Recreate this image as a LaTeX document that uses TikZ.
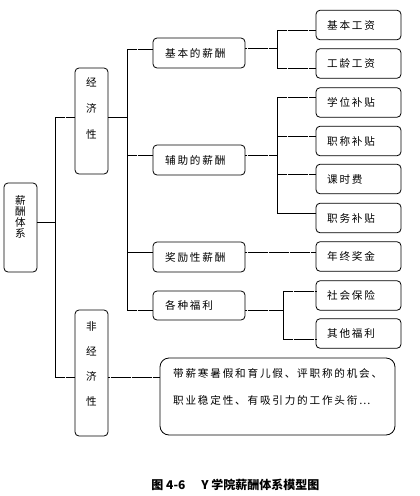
\documentclass[tikz,border=0pt]{standalone}
\usepackage{fontspec}
\newfontfamily\cjk[LetterSpace=17]{Noto Sans CJK SC}
\newfontfamily\cjkplain{Noto Sans CJK SC}
\begin{document}
\begin{tikzpicture}[x=1pt,y=-1pt,
  box/.style={draw, line width=0.8pt, rounded corners=4pt, inner sep=0pt},
  lbl/.style={font=\cjk\fontsize{10.6}{12}\selectfont, inner sep=0pt, anchor=west},
  vlbl/.style={font=\cjkplain\fontsize{10.6}{#1}\selectfont, inner sep=0pt, align=center},
  solidl/.style={line width=0.6pt},
  dotl/.style={line width=1pt, dash pattern=on 0.7pt off 0.35pt}]
\useasboundingbox (0,0) rectangle (420,496);
% level 0 and 1
\node[box, minimum width=33pt, minimum height=89pt] (root) at (20.5,227.5) {};
\node[vlbl=11pt] (roott) at (20.5,216.5) {薪\\酬\\体\\系};
\node[box, minimum width=33pt, minimum height=106pt] (econ) at (91.5,121) {};
\node[vlbl=26pt] (econt) at (91.5,108) {经\\济\\性};
\node[box, minimum width=33pt, minimum height=126pt] (nonecon) at (91.5,373) {};
\node[vlbl=25pt] (nonecont) at (91.5,363.5) {非\\经\\济\\性};
% level 2
\node[box, minimum width=92pt, minimum height=30pt] (basic) at (199,53) {};
\node[lbl] (basict) at (165,53) {基本的薪酬};
\node[box, minimum width=92pt, minimum height=30pt] (aux) at (199,160) {};
\node[lbl] (auxt) at (165,160) {辅助的薪酬};
\node[box, minimum width=92pt, minimum height=30pt] (bonus) at (199,257) {};
\node[lbl] (bonust) at (165,257) {奖励性薪酬};
\node[box, minimum width=92pt, minimum height=29pt] (welf) at (199,305.5) {};
\node[lbl] (welft) at (165,305.5) {各种福利};
% level 3
\node[box, minimum width=85pt, minimum height=29.5pt] (jbgz) at (358.5,25) {};
\node[lbl] (jbgzt) at (327,25) {基本工资};
\node[box, minimum width=85pt, minimum height=29.5pt] (glgz) at (358.5,63.5) {};
\node[lbl] (glgzt) at (327,63.5) {工龄工资};
\node[box, minimum width=85pt, minimum height=29.5pt] (xwbt) at (358.5,102.5) {};
\node[lbl] (xwbtt) at (327,102.5) {学位补贴};
\node[box, minimum width=85pt, minimum height=29.5pt] (zcbt) at (358.5,141) {};
\node[lbl] (zcbtt) at (327,141) {职称补贴};
\node[box, minimum width=85pt, minimum height=29.5pt] (kss) at (358.5,179) {};
\node[lbl] (ksst) at (327,179) {课时费};
\node[box, minimum width=85pt, minimum height=29.5pt] (zwbt) at (358.5,218) {};
\node[lbl] (zwbtt) at (327,218) {职务补贴};
\node[box, minimum width=85pt, minimum height=29.5pt] (nzjj) at (358.5,256.5) {};
\node[lbl] (nzjjt) at (327,256.5) {年终奖金};
\node[box, minimum width=85pt, minimum height=29.5pt] (shbx) at (358.5,295.5) {};
\node[lbl] (shbxt) at (327,295.5) {社会保险};
\node[box, minimum width=85pt, minimum height=29.5pt] (qtfl) at (358.5,333.5) {};
\node[lbl] (qtflt) at (327,333.5) {其他福利};
% big box
\node[box, rounded corners=9pt, minimum width=235pt, minimum height=77pt] (big) at (277.5,396.5) {};
\node[lbl] (bt1) at (173,373) {带薪寒暑假和育儿假、评职称的机会、};
\node[lbl] (bt2) at (173,400) {职业稳定性、有吸引力的工作头衔⋯};
% caption
\node[font=\cjkplain\bfseries\fontsize{12}{14}\selectfont, inner sep=0pt] (cap) at (235.5,485) {图 4-6\hspace{16pt}Y 学院薪酬体系模型图};
% connectors
\coordinate (jA) at (55,222);
\coordinate (jAt) at (55,117);
\coordinate (jAb) at (55,377);
\draw[solidl] (root.east|-jA) -- (jA);
\draw[solidl] (jAt) -- (jAb);
\draw[dotl] (jAt) -- (econ.west|-jAt);
\draw[dotl] (jAb) -- (nonecon.west|-jAb);
\draw[dotl] (nonecon.east|-jAb) -- (big.west|-jAb);
\coordinate (jB) at (127,117);
\coordinate (jBt) at (127,49);
\coordinate (jB2) at (127,155);
\coordinate (jB3) at (127,252);
\coordinate (jBb) at (127,310);
\draw[solidl] (econ.east|-jB) -- (jB);
\draw[solidl] (jBt) -- (jBb);
\draw[dotl] (jBt) -- (basic.west|-jBt);
\draw[dotl] (jB2) -- (aux.west|-jB2);
\draw[solidl] (jB3) -- (bonus.west|-jB3);
\draw[dotl] (jBb) -- (welf.west|-jBb);
\coordinate (jC) at (277,48);
\coordinate (jCt) at (277,30);
\coordinate (jCb) at (277,68);
\draw[dotl] (basic.east|-jC) -- (jC);
\draw[solidl] (jCt) -- (jCb);
\draw[dotl] (jCt) -- (jbgz.west|-jCt);
\draw[dotl] (jCb) -- (glgz.west|-jCb);
\coordinate (jD) at (277,155);
\coordinate (jDt) at (277,97);
\coordinate (jD2) at (277,136);
\coordinate (jD3) at (277,174);
\coordinate (jDb) at (277,213);
\draw[dotl] (aux.east|-jD) -- (jD);
\draw[solidl] (jDt) -- (jDb);
\draw[dotl] (jDt) -- (xwbt.west|-jDt);
\draw[dotl] (jD2) -- (zcbt.west|-jD2);
\draw[dotl] (jD3) -- (kss.west|-jD3);
\draw[solidl] (jDb) -- (zwbt.west|-jDb);
\draw[dotl] (bonus.east|-jB3) -- (nzjj.west|-jB3);
\coordinate (jE) at (283,310);
\coordinate (jEt) at (283,291);
\coordinate (jEb) at (283,339);
\draw[dotl] (welf.east|-jE) -- (jE);
\draw[solidl] (jEt) -- (jEb);
\draw[dotl] (jEt) -- (shbx.west|-jEt);
\draw[dotl] (jEb) -- (qtfl.west|-jEb);
\end{tikzpicture}
\end{document}
